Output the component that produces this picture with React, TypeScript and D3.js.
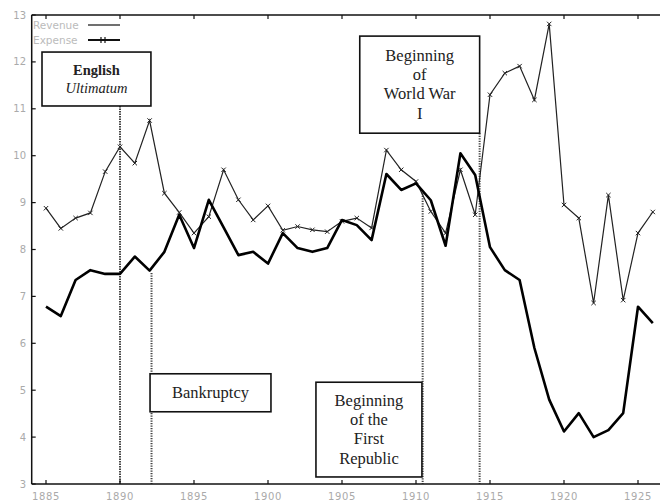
import React, { useRef, useEffect } from "react";
import { select, scaleLinear, line, range } from "d3";

// years on the x axis
const years = range(1885, 1927);

// values (same order as years)
const expense = [
  8.88, 8.45, 8.67, 8.78, 9.66, 10.19, 9.84, 10.75, 9.2, 8.79, 8.35, 8.7, 9.7,
  9.06, 8.63, 8.93, 8.41, 8.49, 8.42, 8.38, 8.6, 8.67, 8.46, 10.12, 9.7, 9.45,
  8.81, 8.35, 9.7, 8.74, 11.3, 11.76, 11.91, 11.19, 12.81, 8.95, 8.67, 6.86,
  9.16, 6.92, 8.35, 8.8,
];

const revenue = [
  6.78, 6.58, 7.35, 7.56, 7.48, 7.48, 7.85, 7.55, 7.95, 8.74, 8.03, 9.06, 8.47,
  7.88, 7.95, 7.7, 8.35, 8.03, 7.95, 8.03, 8.63, 8.52, 8.2, 9.61, 9.27, 9.41,
  9.05, 8.08, 10.05, 9.59, 8.05, 7.56, 7.35, 5.9, 4.8, 4.12, 4.51, 4.0, 4.15,
  4.51, 6.78, 6.43,
];

const xTicks = [1885, 1890, 1895, 1900, 1905, 1910, 1915, 1920, 1925];
const yTicks = [3, 4, 5, 6, 7, 8, 9, 10, 11, 12, 13];

// events marked with dotted lines
const eventYears = [1890, 1892.13, 1910.45, 1914.3];

// box layout in data units: [x0, x1, yTop, yBottom]
const boxes = [
  { lines: ["English", "Ultimatum"], rect: [1884.73, 1892.09, 12.21, 11.06] },
  { lines: ["Bankruptcy"], rect: [1892.03, 1900.2, 5.35, 4.54] },
  {
    lines: ["Beginning", "of the", "First", "Republic"],
    rect: [1903.24, 1910.4, 5.17, 3.15],
  },
  {
    lines: ["Beginning", "of", "World War", "I"],
    rect: [1906.2, 1914.3, 12.55, 10.48],
  },
];

const W = 660;
const H = 503;

export default function App() {
  const ref = useRef<SVGSVGElement>(null);

  useEffect(() => {
    const svg = select(ref.current);
    svg.selectAll("*").remove();

    const x = scaleLinear().domain([1884, 1927]).range([31.2, 667.6]);
    const y = scaleLinear().domain([3, 13]).range([484, 15]);
    const left = 31.7;
    const top = y(13);
    const bottom = y(3);

    // dotted event lines
    const dotTops = [
      y(boxes[0].rect[3]),
      y(7.5),
      y(9.2),
      y(boxes[3].rect[3]),
    ];
    svg
      .append("g")
      .selectAll("line")
      .data(eventYears)
      .enter()
      .append("line")
      .attr("x1", (d) => x(d))
      .attr("x2", (d) => x(d))
      .attr("y1", (d, i) => dotTops[i])
      .attr("y2", bottom)
      .style("stroke", "#444")
      .style("stroke-width", 2)
      .style("stroke-dasharray", "1.4,1.1");

    // frame
    const frame = svg.append("g").style("stroke", "#111").style("stroke-width", 1.5);
    frame.append("line").attr("x1", left).attr("x2", W).attr("y1", top).attr("y2", top);
    frame.append("line").attr("x1", left).attr("x2", W).attr("y1", bottom).attr("y2", bottom);
    frame.append("line").attr("x1", left).attr("x2", left).attr("y1", top).attr("y2", bottom);

    const ticks = svg.append("g").style("stroke", "#111").style("stroke-width", 1.2);
    xTicks.forEach((t) => {
      ticks.append("line").attr("x1", x(t)).attr("x2", x(t)).attr("y1", bottom).attr("y2", bottom - 4);
      ticks.append("line").attr("x1", x(t)).attr("x2", x(t)).attr("y1", top).attr("y2", top + 4);
    });
    yTicks.forEach((t) => {
      ticks.append("line").attr("x1", left).attr("x2", left + 4).attr("y1", y(t)).attr("y2", y(t));
    });

    const labelStyle = (s: any) =>
      s
        .style("font-family", "DejaVu Sans")
        .style("font-size", "10px")
        .style("fill", "#aaa");

    svg
      .append("g")
      .selectAll("text")
      .data(xTicks)
      .enter()
      .append("text")
      .attr("x", (d) => x(d))
      .attr("y", bottom + 16)
      .attr("text-anchor", "middle")
      .style("letter-spacing", "0.6px")
      .call(labelStyle)
      .text((d) => d);

    svg
      .append("g")
      .selectAll("text")
      .data(yTicks)
      .enter()
      .append("text")
      .attr("x", 26)
      .attr("y", (d) => y(d) + 3.5)
      .attr("text-anchor", "end")
      .call(labelStyle)
      .text((d) => d);

    // series
    const expensePts = years.map((yr, i) => [yr, expense[i]] as [number, number]);
    const revenuePts = years.map((yr, i) => [yr, revenue[i]] as [number, number]);
    const path = line<[number, number]>()
      .x((d) => x(d[0]))
      .y((d) => y(d[1]));

    svg
      .append("path")
      .attr("d", path(expensePts))
      .style("fill", "none")
      .style("stroke", "#222")
      .style("stroke-width", 1.2);

    const m = 2.2;
    svg
      .append("g")
      .selectAll("path")
      .data(expensePts)
      .enter()
      .append("path")
      .attr("d", (d) => {
        const cx = x(d[0]);
        const cy = y(d[1]);
        return `M${cx - m},${cy - m}L${cx + m},${cy + m}M${cx - m},${cy + m}L${cx + m},${cy - m}`;
      })
      .style("stroke", "#222")
      .style("stroke-width", 1);

    svg
      .append("path")
      .attr("d", path(revenuePts))
      .style("fill", "none")
      .style("stroke", "#000")
      .style("stroke-width", 2.6)
      .style("stroke-linejoin", "round");

    // legend
    const legend = svg.append("g");
    const legendItems = ["Revenue", "Expense"];
    legendItems.forEach((name, i) => {
      const ly = 25 + i * 15;
      legend
        .append("text")
        .attr("x", 33)
        .attr("y", ly + 3.5)
        .style("font-family", "DejaVu Sans")
        .style("font-size", "10.5px")
        .style("fill", "#bbb")
        .text(name);
      legend
        .append("line")
        .attr("x1", 88)
        .attr("x2", 120)
        .attr("y1", ly)
        .attr("y2", ly)
        .style("stroke", "#111")
        .style("stroke-width", i === 0 ? 1.2 : 2);
      if (i === 1) {
        [101, 105].forEach((cx) =>
          legend
            .append("line")
            .attr("x1", cx)
            .attr("x2", cx)
            .attr("y1", ly - 3)
            .attr("y2", ly + 3)
            .style("stroke", "#111")
            .style("stroke-width", 1.2)
        );
      }
    });

    // annotation boxes
    boxes.forEach((b, bi) => {
      const [x0, x1, y0, y1] = b.rect;
      const g = svg.append("g");
      g.append("rect")
        .attr("x", x(x0))
        .attr("y", y(y0))
        .attr("width", x(x1) - x(x0))
        .attr("height", y(y1) - y(y0))
        .style("fill", "#fff")
        .style("stroke", "#111")
        .style("stroke-width", 1.6);
      const cx = (x(x0) + x(x1)) / 2;
      const cy = (y(y0) + y(y1)) / 2;
      const lh = bi === 0 ? 18.6 : 19.3;
      const n = b.lines.length;
      b.lines.forEach((t, li) => {
        g.append("text")
          .attr("x", cx)
          .attr("y", cy + (li - (n - 1) / 2) * lh + 5)
          .attr("text-anchor", "middle")
          .style("font-family", "Liberation Serif")
          .style("font-size", bi === 0 ? "14.5px" : "16.5px")
          .style("font-weight", bi === 0 && li === 0 ? "bold" : "normal")
          .style("font-style", bi === 0 && li === 1 ? "italic" : "normal")
          .style("fill", "#222")
          .text(t);
      });
    });
  }, []);

  return (
    <svg
      ref={ref}
      width={W}
      height={H}
      style={{ position: "absolute", left: 0, top: 0, background: "#fff" }}
    />
  );
}
